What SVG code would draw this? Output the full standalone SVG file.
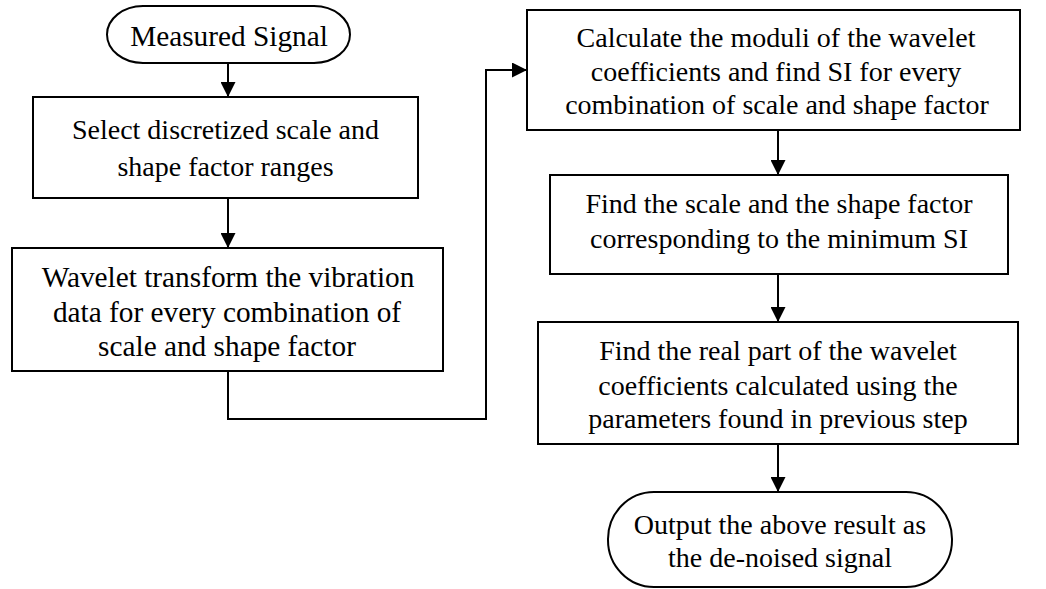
<svg xmlns="http://www.w3.org/2000/svg" width="1046" height="589" viewBox="0 0 1046 589">
  <style>
    .box { fill: #ffffff; stroke: #000000; stroke-width: 2; }
    .lbl { font-family: "Liberation Serif", "Times New Roman", serif; font-size: 28px; fill: #000000; text-anchor: middle; }
    .lbl-lg { font-size: 29.3px; }
    .wire { fill: none; stroke: #000000; stroke-width: 2; }
  </style>
  <defs>
    <marker id="arrow" viewBox="0 0 15 15" refX="15" refY="7.5" markerWidth="15" markerHeight="15" markerUnits="userSpaceOnUse" orient="auto">
      <path d="M0,0 L15,7.5 L0,15 Z" fill="#000000"/>
    </marker>
  </defs>
  <rect width="1046" height="589" fill="#ffffff"/>

  <!-- connectors -->
  <g id="connectors">
    <line class="wire" x1="228" y1="63" x2="228" y2="97" marker-end="url(#arrow)"/>
    <line class="wire" x1="228" y1="198" x2="228" y2="248" marker-end="url(#arrow)"/>
    <polyline class="wire" points="228,371 228,419 486,419 486,70 527,70" marker-end="url(#arrow)"/>
    <line class="wire" x1="778" y1="130" x2="778" y2="175" marker-end="url(#arrow)"/>
    <line class="wire" x1="778" y1="274" x2="778" y2="322" marker-end="url(#arrow)"/>
    <line class="wire" x1="778" y1="444" x2="778" y2="492" marker-end="url(#arrow)"/>
  </g>

  <!-- start terminal -->
  <g id="measured-signal">
    <rect class="box" x="107" y="6" width="243" height="57" rx="36" ry="28.5"/>
    <text class="lbl lbl-lg" x="229" y="46">Measured Signal</text>
  </g>

  <g id="select-ranges">
    <rect class="box" x="33" y="97" width="385" height="101"/>
    <text class="lbl" x="225.5" y="139">Select discretized scale and</text>
    <text class="lbl" x="225.5" y="176">shape factor ranges</text>
  </g>

  <g id="wavelet-transform">
    <rect class="box" x="12" y="248" width="431" height="123"/>
    <text class="lbl lbl-lg" x="228" y="287">Wavelet transform the vibration</text>
    <text class="lbl lbl-lg" x="227" y="322">data for every combination of</text>
    <text class="lbl lbl-lg" x="227" y="356">scale and shape factor</text>
  </g>

  <g id="calculate-moduli">
    <rect class="box" x="527" y="10" width="493" height="120"/>
    <text class="lbl" x="776" y="47">Calculate the moduli of the wavelet</text>
    <text class="lbl" x="776" y="81">coefficients and find SI for every</text>
    <text class="lbl" x="777" y="114">combination of scale and shape factor</text>
  </g>

  <g id="find-minimum">
    <rect class="box" x="550" y="175" width="458" height="99"/>
    <text class="lbl" x="779" y="213">Find the scale and the shape factor</text>
    <text class="lbl" x="779" y="248">corresponding to the minimum SI</text>
  </g>

  <g id="real-part">
    <rect class="box" x="538" y="322" width="480" height="122"/>
    <text class="lbl" x="778" y="360">Find the real part of the wavelet</text>
    <text class="lbl" x="778" y="395">coefficients calculated using the</text>
    <text class="lbl" x="778" y="428">parameters found in previous step</text>
  </g>

  <!-- end terminal -->
  <g id="output-signal">
    <rect class="box" x="608" y="492" width="344" height="95" rx="46" ry="47"/>
    <text class="lbl" x="780" y="534">Output the above result as</text>
    <text class="lbl" x="780" y="567">the de-noised signal</text>
  </g>
</svg>
